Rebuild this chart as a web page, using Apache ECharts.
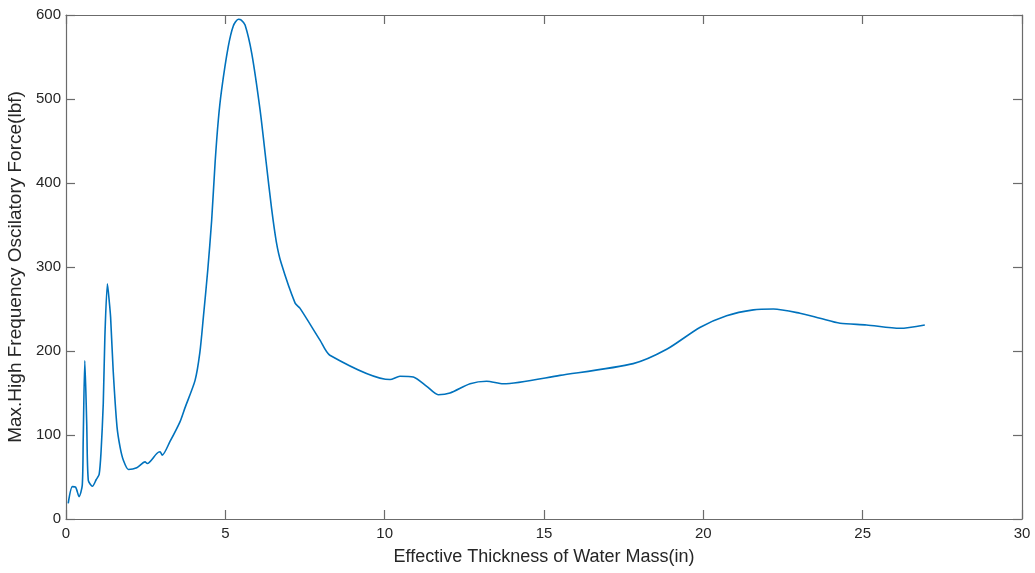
<!DOCTYPE html>
<html>
<head>
<meta charset="utf-8">
<title>Max. High Frequency Oscilatory Force</title>
<script src="https://cdn.jsdelivr.net/npm/echarts@6/dist/echarts.min.js"></script>
<style>
  html, body { margin: 0; padding: 0; background: #ffffff; }
  #chart { width: 1035px; height: 573px; }
</style>
</head>
<body>
<div id="chart"></div>
<script>
// Effective thickness of the water mass (in)
const thickness = [
  0.07, 0.2, 0.3, 0.41, 0.51, 0.54, 0.59, 0.65, 0.7, 0.83, 0.95, 1.04, 1.1, 1.17, 1.22,
  1.3, 1.36, 1.4, 1.48, 1.6, 1.7, 1.8, 1.96, 2.22, 2.48, 2.55, 2.85, 2.95, 3.02, 3.26,
  3.58, 3.73, 4.05, 4.2, 4.31, 4.45, 4.57, 4.68, 4.78, 4.88, 5.09, 5.25, 5.41, 5.5, 5.62,
  5.83, 6.09, 6.28, 6.45, 6.6, 6.75, 7.19, 7.34, 7.97, 8.28, 10.17, 10.48, 10.9, 11.32,
  11.68, 12.05, 12.68, 13.2, 13.72, 15.5, 17.8, 18.85, 19.89, 20.73, 21.57, 22.2, 23.03,
  23.66, 24.29, 25.12, 26.17, 26.95
];
// Maximum high frequency oscillatory force (lbf)
const force = [
  18.7, 38.5, 38, 26.6, 40, 94, 188.5, 114, 46, 39, 47, 53, 80, 138, 217,
  280, 258, 240, 177, 110, 85, 70, 59, 61, 68, 66, 78, 80, 76, 92,
  116, 132, 165, 198, 240, 297, 355, 425, 475, 510, 562, 587, 595, 594, 588,
  554, 487, 425, 370, 330, 305, 257, 251, 213, 195, 166, 170, 169, 158,
  148, 150, 161, 164, 161, 171, 185, 202, 228, 242, 249, 250, 245,
  239, 233, 231, 227, 231
];
const xTicks = [0, 5, 10, 15, 20, 25, 30];
const yTicks = [0, 100, 200, 300, 400, 500, 600];

const points = thickness.map((t, i) => [t, force[i]]);

const axisColor = '#6b6b6b';
const textColor = '#262626';
const fontFamily = '"Liberation Sans", Arial, Helvetica, sans-serif';

const boxAxisX = (pos, showLabel) => ({
  type: 'value',
  position: pos,
  min: xTicks[0],
  max: xTicks[xTicks.length - 1],
  interval: xTicks[1] - xTicks[0],
  axisLine: { show: true, onZero: false, lineStyle: { color: axisColor, width: 1.2 } },
  axisTick: { show: true, inside: true, length: 9, lineStyle: { color: axisColor, width: 1.2 } },
  axisLabel: { show: showLabel, color: textColor, fontSize: 15, fontFamily: fontFamily, margin: 7 },
  splitLine: { show: false }
});

const boxAxisY = (pos, showLabel) => ({
  type: 'value',
  position: pos,
  min: yTicks[0],
  max: yTicks[yTicks.length - 1],
  interval: yTicks[1] - yTicks[0],
  axisLine: { show: true, onZero: false, lineStyle: { color: axisColor, width: 1.2 } },
  axisTick: { show: true, inside: true, length: 9, lineStyle: { color: axisColor, width: 1.2 } },
  axisLabel: { show: showLabel, color: textColor, fontSize: 15, fontFamily: fontFamily, margin: 5 },
  splitLine: { show: false }
});

const xMain = Object.assign(boxAxisX('bottom', true), {
  name: 'Effective Thickness of Water Mass(in)',
  nameLocation: 'middle',
  nameGap: 29,
  nameTextStyle: { color: textColor, fontSize: 18, fontFamily: fontFamily }
});
const yMain = Object.assign(boxAxisY('left', true), {
  name: 'Max.High Frequency Oscilatory Force(lbf)',
  nameLocation: 'middle',
  nameGap: 34,
  nameTextStyle: { color: textColor, fontSize: 19, fontFamily: fontFamily }
});

const chart = echarts.init(document.getElementById('chart'), null, { renderer: 'canvas' });
chart.setOption({
  animation: false,
  backgroundColor: '#ffffff',
  grid: { left: 66, right: 13, top: 15, bottom: 54, containLabel: false, outerBoundsMode: 'none' },
  xAxis: [xMain, boxAxisX('top', false)],
  yAxis: [yMain, boxAxisY('right', false)],
  series: [{
    type: 'line',
    xAxisIndex: 0,
    yAxisIndex: 0,
    data: points,
    showSymbol: false,
    smooth: 0.25,
    lineStyle: { color: '#0072BD', width: 1.6 }
  }]
});
</script>
</body>
</html>
